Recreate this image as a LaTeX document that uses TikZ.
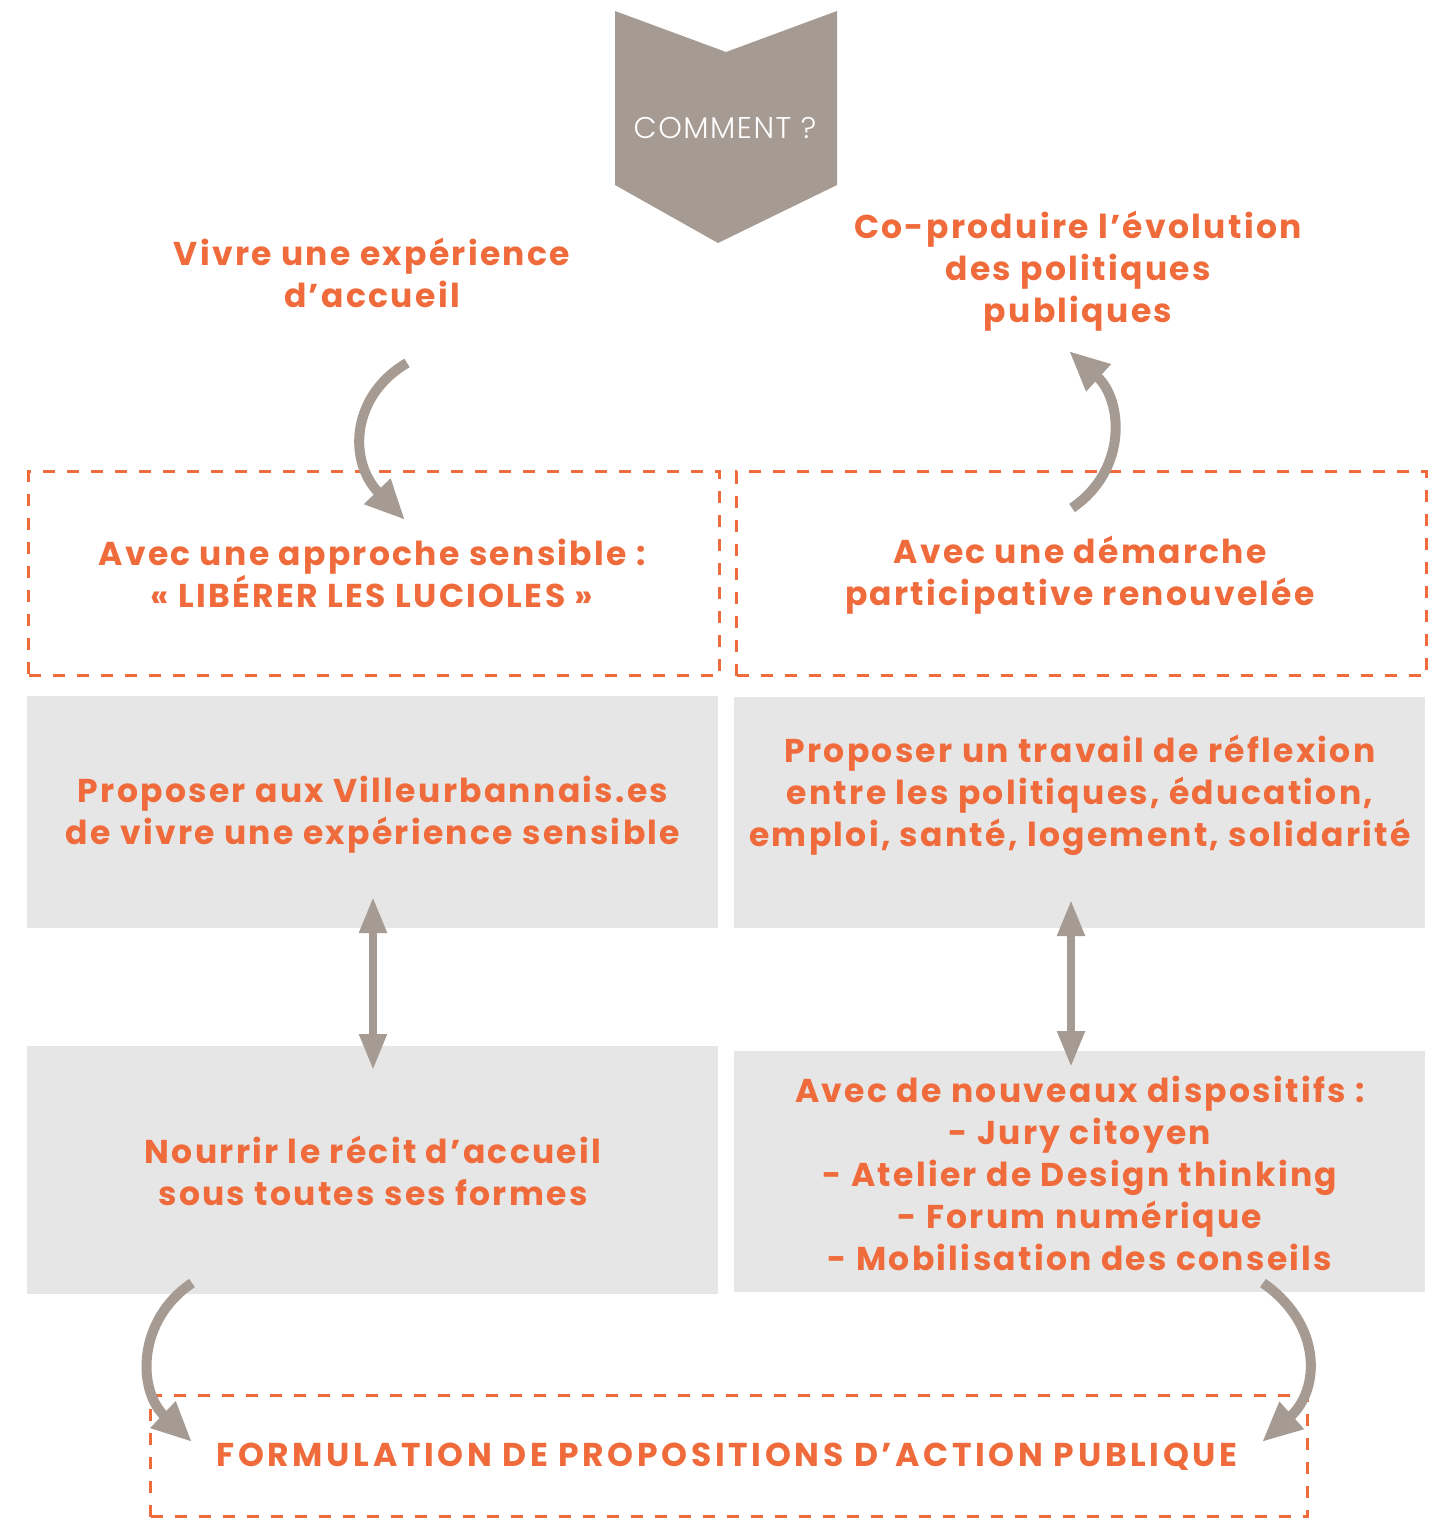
\documentclass[tikz,border=0pt]{standalone}
\usepackage{fontspec}
\setmainfont{Poppins}[LetterSpace=7]
\newfontfamily\lightfont{Poppins Light}[LetterSpace=5]
\newfontfamily\capsfont{Poppins}[LetterSpace=11]
\usetikzlibrary{arrows.meta}
\definecolor{orng}{HTML}{EF6B3B}
\definecolor{taupe}{HTML}{A69B93}
\definecolor{boxgray}{HTML}{E6E6E6}
\tikzset{
 txt/.style={text=orng, font=\fontsize{33}{42}\selectfont\bfseries, align=center, inner sep=0pt},
 dbox/.style={draw=orng, line width=3pt, dash pattern=on 12pt off 12pt, anchor=north west, inner sep=0pt},
 gbox/.style={fill=boxgray, anchor=north west, inner sep=0pt},
 carrow/.style={draw=taupe, line width=10pt, -{Triangle[length=40pt,width=34pt]}},
 darrow/.style={draw=taupe, line width=8pt, {Triangle[length=36pt,width=26pt]}-{Triangle[length=36pt,width=26pt]}},
}
\begin{document}
\begin{tikzpicture}[x=1pt,y=-1pt]
\useasboundingbox (0,0) rectangle (1442,1518);
% chevron
\path[fill=taupe] (615,11) -- (726,52) -- (837,11) -- (837,185) -- (718,243) -- (615,185) -- cycle;
\node[text=white, font=\lightfont\fontsize{30}{34}\selectfont, inner sep=0pt] (how) at (725,128) {COMMENT ?};
% boxes
\node[dbox, minimum width=691pt, minimum height=204pt] (dL) at (27,470) {};
\node[dbox, minimum width=690pt, minimum height=204pt] (dR) at (735,470) {};
\node[gbox, minimum width=691pt, minimum height=232pt] (gL1) at (27,696) {};
\node[gbox, minimum width=691pt, minimum height=231pt] (gR1) at (734,697) {};
\node[gbox, minimum width=691pt, minimum height=248pt] (gL2) at (27,1046) {};
\node[gbox, minimum width=691pt, minimum height=241pt] (gR2) at (734,1051) {};
\node[dbox, minimum width=1157pt, minimum height=121pt] (dB) at (149,1394) {};
% texts
\node[txt] (t1) at (372,273) {Vivre une expérience\\d’accueil};
\node[txt] (t2) at (1078,271) {Co-produire l’évolution\\des politiques\\publiques};
\node[txt] (t3) at (372,573) {Avec une approche sensible :\\« LIBÉRER LES LUCIOLES »};
\node[txt] (t4) at (1080,575) {Avec une démarche\\participative renouvelée};
\node[txt] (t5) at (373,815) {Proposer aux Villeurbannais.es\\de vivre une expérience sensible};
\node[txt] (t6) at (1080,795) {Proposer un travail de réflexion\\entre les politiques, éducation,\\emploi, santé, logement, solidarité};
\node[txt] (t7) at (373,1171) {Nourrir le récit d’accueil\\sous toutes ses formes};
\node[txt] (t8) at (1080,1173) {Avec de nouveaux dispositifs :\\- Jury citoyen\\- Atelier de Design thinking\\- Forum numérique\\- Mobilisation des conseils};
\node[txt, font=\capsfont\fontsize{33}{42}\selectfont\bfseries] (t9) at (727,1457) {FORMULATION DE PROPOSITIONS D’ACTION PUBLIQUE};
% arrow end points
\coordinate (a1s) at (407,363); \coordinate (a1e) at (405,520);
\coordinate (a2s) at (1072,508); \coordinate (a2e) at (1069,351);
\coordinate (a3s) at (192,1283); \coordinate (a3e) at (192,1442);
\coordinate (a4s) at (1263,1283); \coordinate (a4e) at (1262,1442);
\coordinate (d1s) at (373,897); \coordinate (d1e) at (373,1070);
\coordinate (d2s) at (1071,900); \coordinate (d2e) at (1071,1067);
% curved arrows
\draw[carrow] (a1s) .. controls (352,395) and (347,460) .. (a1e);
\draw[carrow] (a2s) .. controls (1128,470) and (1123,400) .. (a2e);
\draw[carrow] (a3s) .. controls (137,1320) and (137,1390) .. (a3e);
\draw[carrow] (a4s) .. controls (1323,1325) and (1320,1390) .. (a4e);
% double arrows
\draw[darrow] (d1s) -- (d1e);
\draw[darrow] (d2s) -- (d2e);
\end{tikzpicture}
\end{document}
